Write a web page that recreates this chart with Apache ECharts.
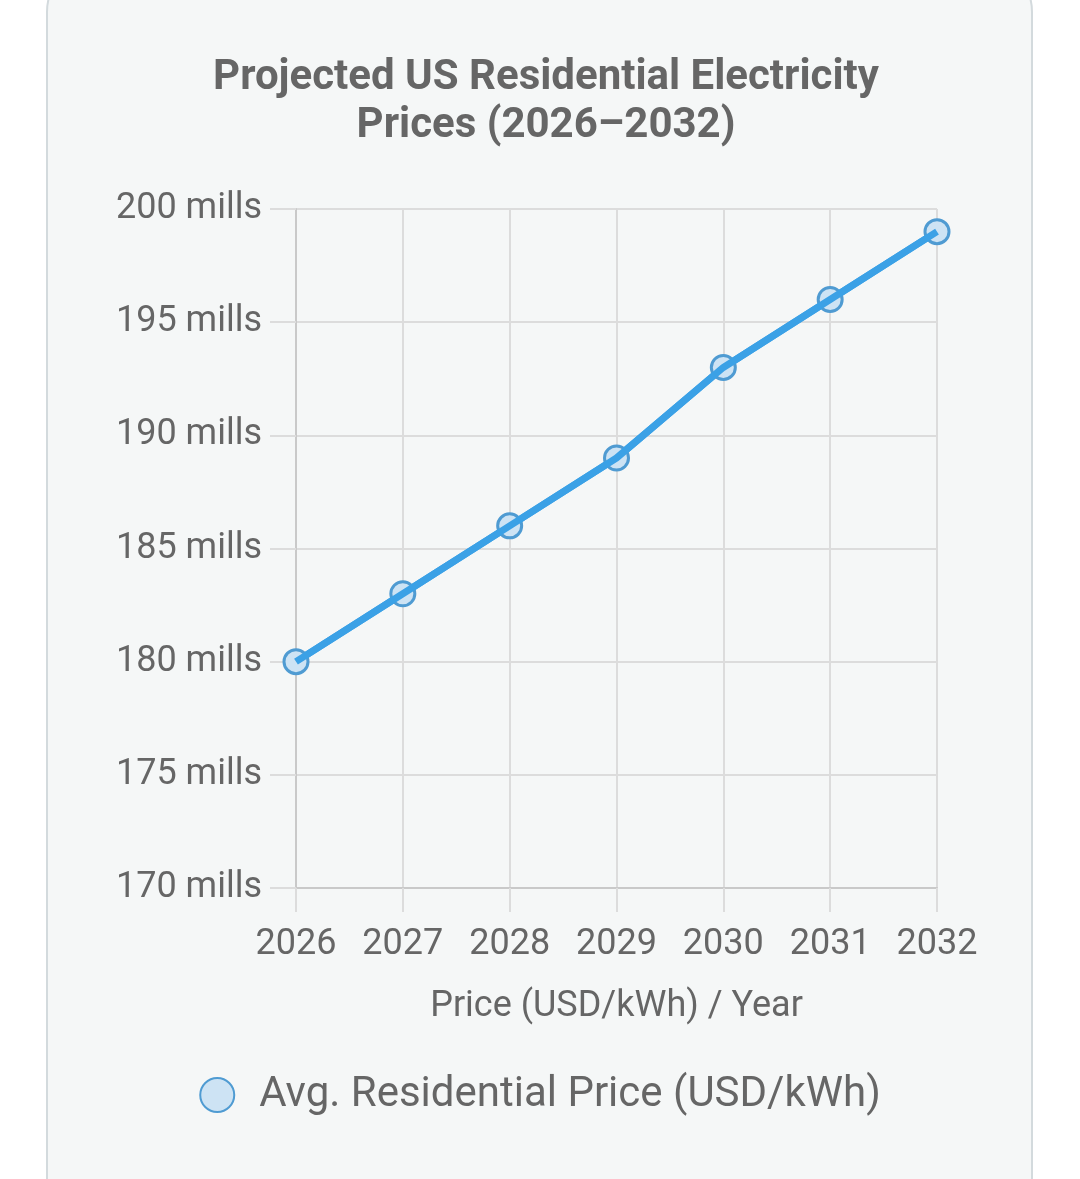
<!DOCTYPE html>
<html>
<head>
<meta charset="utf-8">
<script src="https://cdn.jsdelivr.net/npm/echarts@6/dist/echarts.min.js"></script>
<style>
  html, body { margin: 0; padding: 0; background: #ffffff; width: 1080px; height: 1179px; overflow: hidden; }
  #card {
    position: absolute; left: 46px; top: -40px; width: 983px; height: 1280px;
    background: #f5f7f7; border: 2px solid #d3dadd; border-radius: 52px;
  }
  #container { position: absolute; left: 0; top: 0; width: 1080px; height: 1179px; }
</style>
</head>
<body>
<div id="card"></div>
<div id="container"></div>
<script>
const years = ["2026", "2027", "2028", "2029", "2030", "2031", "2032"];
const prices = [180, 183, 186, 189, 193, 196, 199]; // mills per kWh
const yTicks = { min: 170, max: 200, step: 5 };
const seriesName = "Avg. Residential Price (USD/kWh)";

let dom = document.getElementById("container");
let myChart = echarts.init(dom, null, { renderer: "canvas" });
const font = "Roboto";
const gray = "#666666";
const blue = "#3ba1e6";

let option = {
  backgroundColor: "transparent",
  animation: false,
  title: {
    text: "Projected US Residential Electricity\nPrices (2026\u20132032)",
    left: 541,
    top: 49,
    textAlign: "center",
    textStyle: {
      fontFamily: font,
      fontSize: 42,
      fontWeight: "bold",
      color: gray,
      lineHeight: 48,
    },
  },
  legend: {
    top: 1069,
    left: "center",
    icon: "circle",
    itemWidth: 34,
    itemHeight: 34,
    textStyle: {
      fontFamily: font,
      fontSize: 42,
      color: gray,
      padding: [0, 0, 0, 20],
    },
    data: [seriesName],
  },
  grid: {
    left: 296,
    right: 143,
    top: 209,
    bottom: 291,
    containLabel: false,
  },
  xAxis: {
    type: "category",
    data: years,
    boundaryGap: false,
    name: "Price (USD/kWh) / Year",
    nameLocation: "middle",
    nameGap: 101,
    nameTextStyle: { fontFamily: font, fontSize: 36, color: gray, verticalAlign: "top" },
    axisLine: { show: true, lineStyle: { color: "#c9c9c9", width: 2 } },
    axisTick: { show: true, alignWithLabel: true, length: 24, lineStyle: { color: "#dcdcdc", width: 2 } },
    axisLabel: { fontFamily: font, fontSize: 36, color: gray, margin: 39 },
    splitLine: { show: true, lineStyle: { color: "#dcdcdc", width: 2 } },
  },
  yAxis: {
    type: "value",
    min: yTicks.min,
    max: yTicks.max,
    interval: yTicks.step,
    axisLine: { show: true, lineStyle: { color: "#c9c9c9", width: 2 } },
    axisTick: { show: true, length: 26, lineStyle: { color: "#dcdcdc", width: 2 } },
    axisLabel: {
      fontFamily: font,
      fontSize: 36,
      color: gray,
      margin: 34,
      padding: [4, 0, 0, 0],
      formatter: "{value} mills",
    },
    splitLine: { show: true, lineStyle: { color: "#dcdcdc", width: 2 } },
  },
  series: [
    {
      name: seriesName,
      type: "line",
      data: prices,
      symbol: "circle",
      symbolSize: 24,
      showSymbol: true,
      z: 2,
      lineStyle: { color: blue, width: 7 },
      itemStyle: { color: "#cde3f4", borderColor: "#4f9bd2", borderWidth: 3 },
      emphasis: { disabled: true },
    },
    {
      // same line drawn again on top of the point markers
      name: "line-overlay",
      type: "line",
      data: prices,
      showSymbol: false,
      z: 3,
      silent: true,
      lineStyle: { color: blue, width: 7 },
      itemStyle: { color: blue },
      emphasis: { disabled: true },
    },
  ],
};

if (option && typeof option === "object") {
  myChart.setOption(option);
}
window.addEventListener("resize", myChart.resize);
</script>
</body>
</html>
